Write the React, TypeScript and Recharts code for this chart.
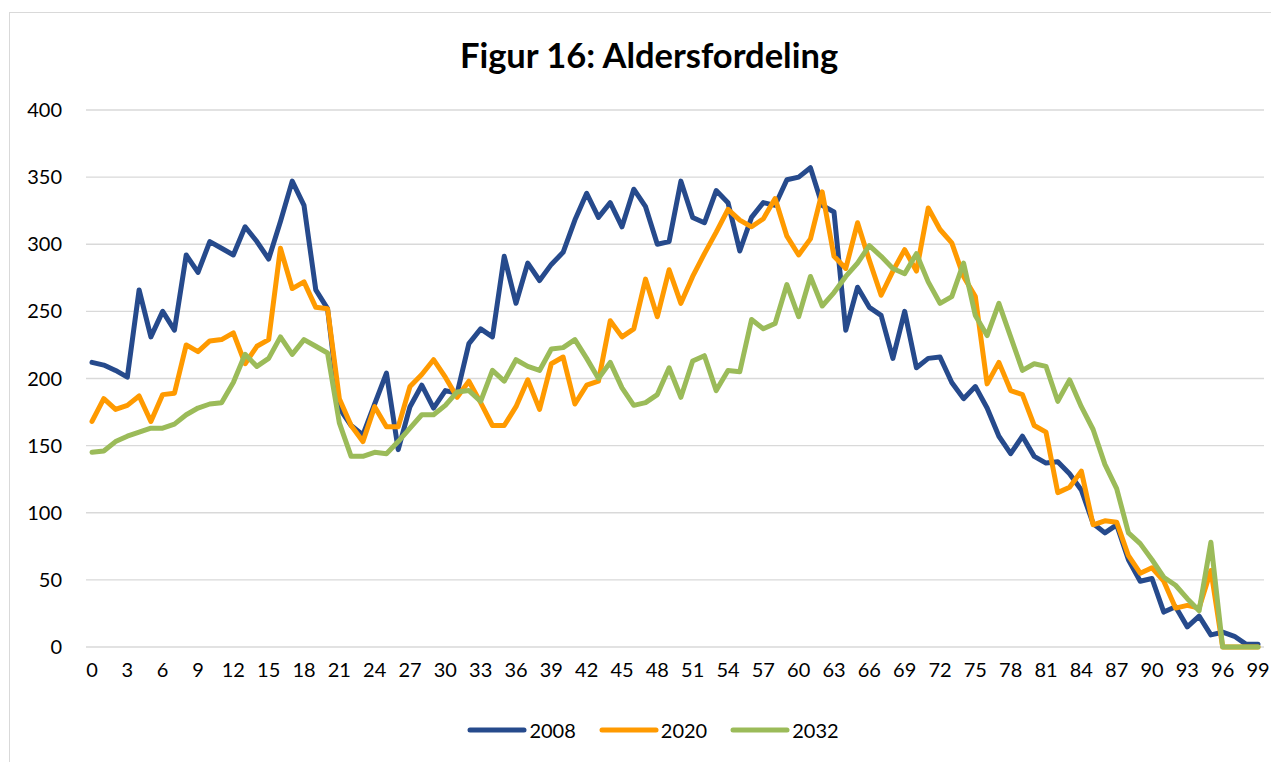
import React from "react"
import { LineChart, Line, XAxis, YAxis, CartesianGrid } from "recharts"

// alder 0-99
const ages = [
  0, 1, 2, 3, 4, 5, 6, 7, 8, 9, 10, 11, 12, 13, 14, 15, 16, 17, 18, 19,
  20, 21, 22, 23, 24, 25, 26, 27, 28, 29, 30, 31, 32, 33, 34, 35, 36, 37, 38, 39,
  40, 41, 42, 43, 44, 45, 46, 47, 48, 49, 50, 51, 52, 53, 54, 55, 56, 57, 58, 59,
  60, 61, 62, 63, 64, 65, 66, 67, 68, 69, 70, 71, 72, 73, 74, 75, 76, 77, 78, 79,
  80, 81, 82, 83, 84, 85, 86, 87, 88, 89, 90, 91, 92, 93, 94, 95, 96, 97, 98, 99,
]

const y2008 = [
  212, 210, 206, 201, 266, 231, 250, 236, 292, 279,
  302, 297, 292, 313, 302, 289, 317, 347, 329, 266,
  252, 178, 165, 158, 181, 204, 147, 179, 195, 178,
  191, 189, 226, 237, 231, 291, 256, 286, 273, 285,
  294, 318, 338, 320, 331, 313, 341, 328, 300, 302,
  347, 320, 316, 340, 331, 295, 320, 331, 329, 348,
  350, 357, 329, 324, 236, 268, 253, 247, 215, 250,
  208, 215, 216, 197, 185, 194, 178, 157, 144, 157,
  142, 137, 138, 129, 117, 92, 85, 91, 65, 49,
  51, 26, 30, 15, 23, 9, 11, 8, 2, 2,
]

const y2020 = [
  168, 185, 177, 180, 187, 168, 188, 189, 225, 220,
  228, 229, 234, 211, 224, 229, 297, 267, 272, 253,
  252, 185, 165, 153, 179, 164, 164, 194, 203, 214,
  201, 186, 198, 182, 165, 165, 179, 199, 177, 211,
  216, 181, 195, 198, 243, 231, 237, 274, 246, 281,
  256, 276, 293, 309, 326, 318, 313, 319, 334, 306,
  292, 304, 339, 291, 282, 316, 288, 262, 280, 296,
  280, 327, 311, 301, 276, 261, 196, 212, 191, 188,
  165, 160, 115, 119, 131, 91, 94, 93, 68, 55,
  59, 49, 29, 31, 29, 57, 0, 0, 0, 0,
]

const y2032 = [
  145, 146, 153, 157, 160, 163, 163, 166, 173, 178,
  181, 182, 197, 218, 209, 215, 231, 218, 229, 224,
  219, 167, 142, 142, 145, 144, 153, 163, 173, 173,
  180, 190, 191, 183, 206, 198, 214, 209, 206, 222,
  223, 229, 215, 200, 212, 193, 180, 182, 188, 208,
  186, 213, 217, 191, 206, 205, 244, 237, 241, 270,
  246, 276, 254, 264, 276, 286, 299, 291, 282, 278,
  293, 272, 256, 261, 286, 247, 232, 256, 231, 206,
  211, 209, 183, 199, 179, 162, 136, 118, 85, 77,
  65, 52, 46, 36, 27, 78, 0, 0, 0, 0,
]

const yTicks = [0, 50, 100, 150, 200, 250, 300, 350, 400]

const series = [
  { key: "2008", color: "#264A8C" },
  { key: "2020", color: "#FF9A00" },
  { key: "2032", color: "#9BBB59" },
]

const data = ages.map((a, i) => ({
  age: a,
  "2008": y2008[i],
  "2020": y2020[i],
  "2032": y2032[i],
}))

const font = "Lato, 'Open Sans', sans-serif"

export default function App() {
  return (
    <div style={{ position: "relative", width: 1271, height: 754, overflow: "hidden", fontFamily: font }}>
      <div
        style={{
          position: "absolute",
          left: 1,
          top: 4,
          width: 1320,
          height: 800,
          border: "1.5px solid #d9d9d9",
        }}
      />
      <div
        style={{
          position: "absolute",
          left: 0,
          top: 26,
          width: 1282,
          textAlign: "center",
          fontSize: 34.5,
          fontWeight: 700,
          color: "#000",
        }}
      >
        Figur 16: Aldersfordeling
      </div>
      <div style={{ position: "absolute", left: 0, top: 0 }}>
        <LineChart width={1271} height={754} data={data} margin={{ top: 102, right: 15, bottom: 75, left: 0 }}>
          <CartesianGrid vertical={false} stroke="#d9d9d9" strokeWidth={1.3} />
          <XAxis
            dataKey="age"
            interval={2}
            tickLine={false}
            axisLine={false}
            height={40}
            padding={{ left: 6, right: 6 }}
            tick={{ fontSize: 20, fill: "#000", fontFamily: font }}
            tickMargin={10}
          />
          <YAxis
            domain={[0, 400]}
            ticks={yTicks}
            tickLine={false}
            axisLine={false}
            width={78}
            tick={{ fontSize: 20, fill: "#000", fontFamily: font }}
            tickMargin={18}
          />
          {series.map((s) => (
            <Line
              key={s.key}
              type="linear"
              dataKey={s.key}
              stroke={s.color}
              strokeWidth={5}
              strokeLinejoin="round"
              strokeLinecap="round"
              dot={false}
              isAnimationActive={false}
            />
          ))}
        </LineChart>
      </div>
      <div
        style={{
          position: "absolute",
          left: 0,
          top: 710,
          width: 1290,
          display: "flex",
          justifyContent: "center",
          gap: 23,
          fontSize: 20,
          color: "#000",
        }}
      >
        {series.map((s) => (
          <div key={s.key} style={{ display: "flex", alignItems: "center" }}>
            <svg width={60} height={10}>
              <line x1={3} y1={5} x2={57} y2={5} stroke={s.color} strokeWidth={5} strokeLinecap="round" />
            </svg>
            <span style={{ marginLeft: 2 }}>{s.key}</span>
          </div>
        ))}
      </div>
    </div>
  )
}
